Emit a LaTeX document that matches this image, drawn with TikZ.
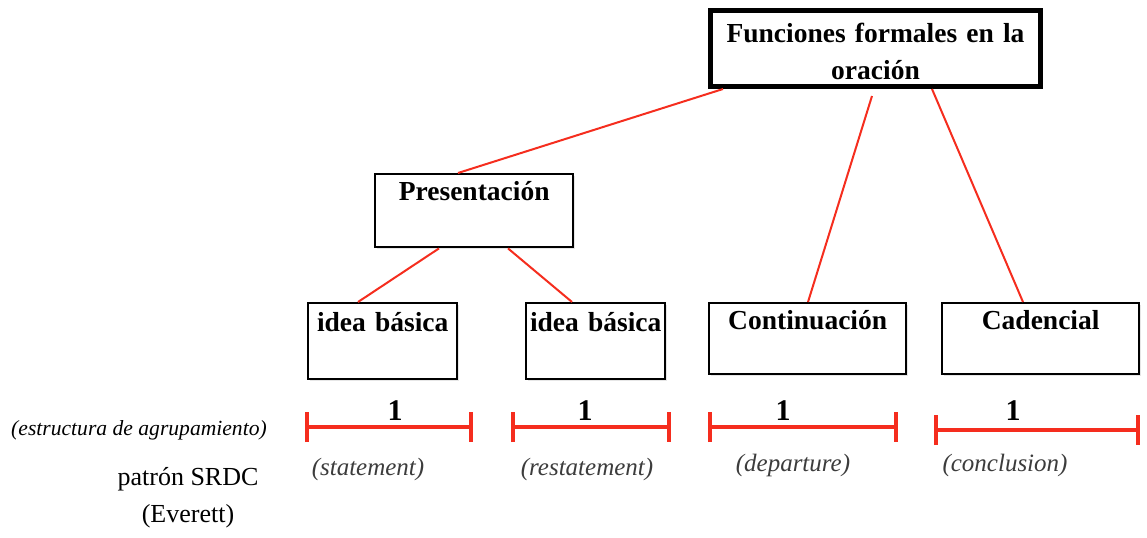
\documentclass[tikz,border=0pt]{standalone}
\usepackage{fontspec}
\setmainfont{Liberation Serif}
\usetikzlibrary{arrows.meta,shadows}
\definecolor{rojo}{RGB}{245,45,30}
\definecolor{gris}{RGB}{60,60,60}

\begin{document}
\begin{tikzpicture}[x=0.5pt,y=-0.5pt,
 caja/.style={draw,fill=white,line width=1.2pt,inner sep=0pt,align=center,anchor=north west,
  font=\bfseries\fontsize{13.75}{18.5}\selectfont,
  drop shadow={opacity=0.2,shadow xshift=0.8pt,shadow yshift=-0.8pt}},
 linea/.style={rojo,line width=1pt},
 barra/.style={rojo,line width=2pt,{Bar[width=15pt]}-{Bar[width=15pt]}},
 num/.style={font=\bfseries\fontsize{15}{18}\selectfont,anchor=base},
 etiq/.style={gris,font=\itshape\fontsize{12.5}{15}\selectfont}]
 \useasboundingbox (0,0) rectangle (1147,537); %marco
 \node[caja,line width=2.5pt,text width=165pt,text height=16pt,text depth=22pt] (fun) at (708,8) {Funciones formales en la\\oración}; %caja superior
 \node[caja,text width=99pt,text height=13pt,text depth=23.5pt] (pres) at (374,173) {Presentación}; %presentacion
 \node[caja,text width=74.5pt,text height=14pt,text depth=24pt] (idea1) at (307,302) {idea básica}; %idea 1
 \node[caja,text width=69.5pt,text height=14pt,text depth=24pt] (idea2) at (525,302) {idea básica}; %idea 2
 \node[caja,text width=98.5pt,text height=13pt,text depth=22.5pt] (cont) at (708,302) {Continuación}; %continuacion
 \node[caja,text width=98.5pt,text height=13pt,text depth=22.5pt] (cad) at (941,302) {Cadencial}; %cadencial
 \draw[linea] ([xshift=7.5pt]fun.south west) -- ([xshift=42pt]pres.north west);
 \draw[linea] ([xshift=82pt,yshift=-3.5pt]fun.south west) -- ([xshift=50pt]cont.north west);
 \draw[linea] ([xshift=112pt]fun.south west) -- ([xshift=41pt]cad.north west);
 \draw[linea] ([xshift=32.5pt]pres.south west) -- ([xshift=25.5pt]idea1.north west);
 \draw[linea] ([xshift=67pt]pres.south west) -- ([xshift=23.5pt]idea2.north west);
 \coordinate (b1i) at (305,427); \coordinate (b1f) at (473,427); %barra 1
 \coordinate (b2i) at (511,427); \coordinate (b2f) at (671,427); %barra 2
 \coordinate (b3i) at (708,427); \coordinate (b3f) at (898,427); %barra 3
 \coordinate (b4i) at (934,430); \coordinate (b4f) at (1140,430); %barra 4
 \draw[barra] (b1i) -- (b1f);
 \draw[barra] (b2i) -- (b2f);
 \draw[barra] (b3i) -- (b3f);
 \draw[barra] (b4i) -- (b4f);
 \node[num] (u1) at (395,420) {1};
 \node[num] (u2) at (585,420) {1};
 \node[num] (u3) at (783,420) {1};
 \node[num] (u4) at (1013,420) {1};
 \node[etiq] (st) at (368,469) {(statement)};
 \node[etiq] (rst) at (587,469) {(restatement)};
 \node[etiq] (dep) at (793,465) {(departure)};
 \node[etiq] (con) at (1005,465) {(conclusion)};
 \node[font=\itshape\fontsize{10.8}{13}\selectfont] (agr) at (139,430) {(estructura de agrupamiento)}; %izquierda
 \node[align=center,font=\fontsize{13}{18.5}\selectfont] (srdc) at (188,498) {patrón SRDC\\(Everett)};
\end{tikzpicture}
\end{document}
